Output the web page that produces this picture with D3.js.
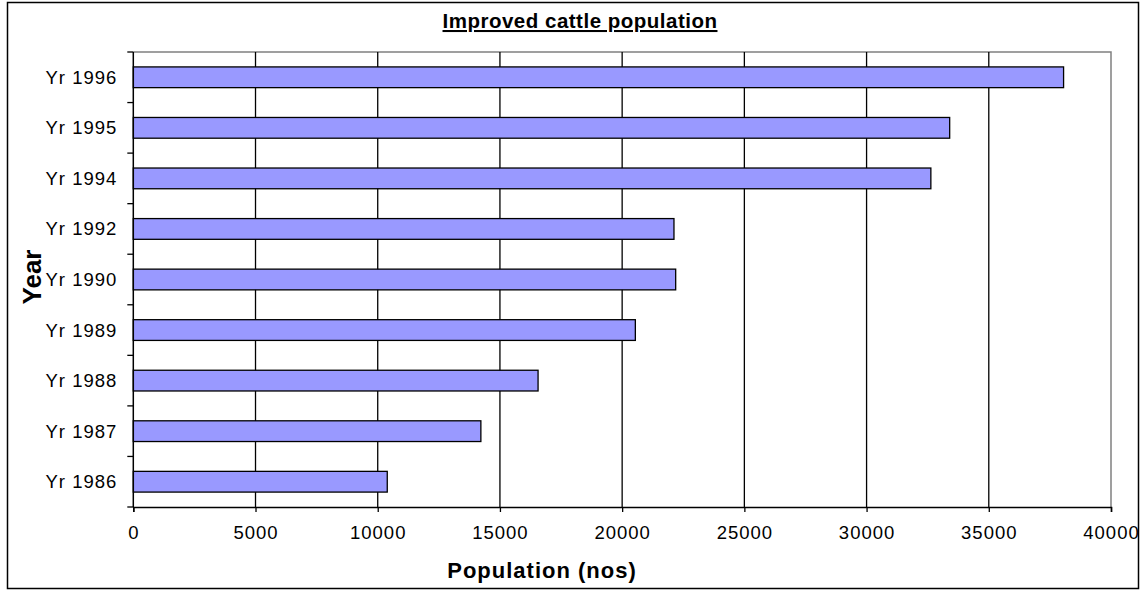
<!DOCTYPE html>
<html><head><meta charset="utf-8">
<script src="https://cdn.jsdelivr.net/npm/d3@7"></script>
<style>body{margin:0;background:#fff}svg{display:block}</style>
</head><body>
<script>
const categories = ["Yr 1996","Yr 1995","Yr 1994","Yr 1992","Yr 1990","Yr 1989","Yr 1988","Yr 1987","Yr 1986"];
const values = [38060, 33400, 32630, 22120, 22190, 20540, 16560, 14220, 10390];
const xTicks = [0,5000,10000,15000,20000,25000,30000,35000,40000];
const title = "Improved cattle population";
const xTitle = "Population (nos)";
const yTitle = "Year";

const W = 1140, H = 590;
const svg = d3.select("body").append("svg").attr("width", W).attr("height", H);
const font = "'Liberation Sans', Arial, sans-serif";

svg.append("rect").attr("x", 7.5).attr("y", 2.5).attr("width", 1131).attr("height", 586)
  .attr("fill", "#fff").attr("stroke", "#000").attr("stroke-width", 1.5);

const L = 133.3, R = 1111, T = 52, B = 507;
const x = d3.scaleLinear().domain([0, 40000]).range([L, R]);
const y = d3.scaleBand().domain(categories).range([T, B]).paddingInner(0.59).paddingOuter(0.295);
const yb = d3.scaleBand().domain(categories).range([T, B]);

// plot border (grey top/right)
svg.append("path").attr("d", `M${L},${T}H${R}V${B}`).attr("fill", "none").attr("stroke", "#808080").attr("stroke-width", 1.5);

// gridlines
svg.append("g").selectAll("line").data(xTicks.slice(1, -1)).join("line")
  .attr("x1", d => x(d)).attr("x2", d => x(d)).attr("y1", T).attr("y2", B)
  .attr("stroke", "#000").attr("stroke-width", 1.3);

// bars
svg.append("g").selectAll("rect").data(values).join("rect")
  .attr("x", x(0)).attr("y", (d, i) => y(categories[i]))
  .attr("width", d => x(d) - x(0)).attr("height", y.bandwidth())
  .attr("fill", "#9999ff").attr("stroke", "#000").attr("stroke-width", 1.3);

// x axis
const xa = svg.append("g").attr("transform", `translate(0,${B})`)
  .call(d3.axisBottom(x).tickValues(xTicks).tickFormat(d3.format("d")).tickSize(5).tickPadding(14));
xa.select(".domain").attr("stroke-width", 1.5);
xa.selectAll("line").attr("stroke-width", 1.3);
xa.selectAll("text").attr("font-family", font).attr("font-size", "18.5px").attr("letter-spacing", "1px").attr("fill", "#000");

// y axis: ticks at category boundaries
const ya = svg.append("g").attr("transform", `translate(${L},0)`);
ya.append("line").attr("x1", 0).attr("x2", 0).attr("y1", T).attr("y2", B).attr("stroke", "#000").attr("stroke-width", 1.5);
const bounds = categories.map(c => yb(c)).concat([B]);
ya.selectAll("line.t").data(bounds).join("line").attr("class", "t")
  .attr("x1", -6).attr("x2", 0).attr("y1", d => d).attr("y2", d => d).attr("stroke", "#000").attr("stroke-width", 1.3);
ya.selectAll("text").data(categories).join("text")
  .attr("x", -16).attr("y", d => yb(d) + yb.bandwidth() / 2).attr("dy", "0.35em")
  .attr("text-anchor", "end").attr("font-family", font).attr("font-size", "18.5px").attr("letter-spacing", "1px").text(d => d);

// titles
svg.append("text").attr("x", 580).attr("y", 28).attr("text-anchor", "middle")
  .attr("font-family", font).attr("font-size", "20.5px").attr("letter-spacing", "0.5px").attr("font-weight", "bold")
  .attr("text-decoration", "underline").text(title);
svg.append("text").attr("x", 542).attr("y", 578).attr("text-anchor", "middle")
  .attr("font-family", font).attr("font-size", "22px").attr("letter-spacing", "1px").attr("font-weight", "bold").text(xTitle);
svg.append("text").attr("transform", `translate(41,277) rotate(-90)`).attr("text-anchor", "middle")
  .attr("font-family", font).attr("font-size", "26px").attr("font-weight", "bold").text(yTitle);
</script>
</body></html>
